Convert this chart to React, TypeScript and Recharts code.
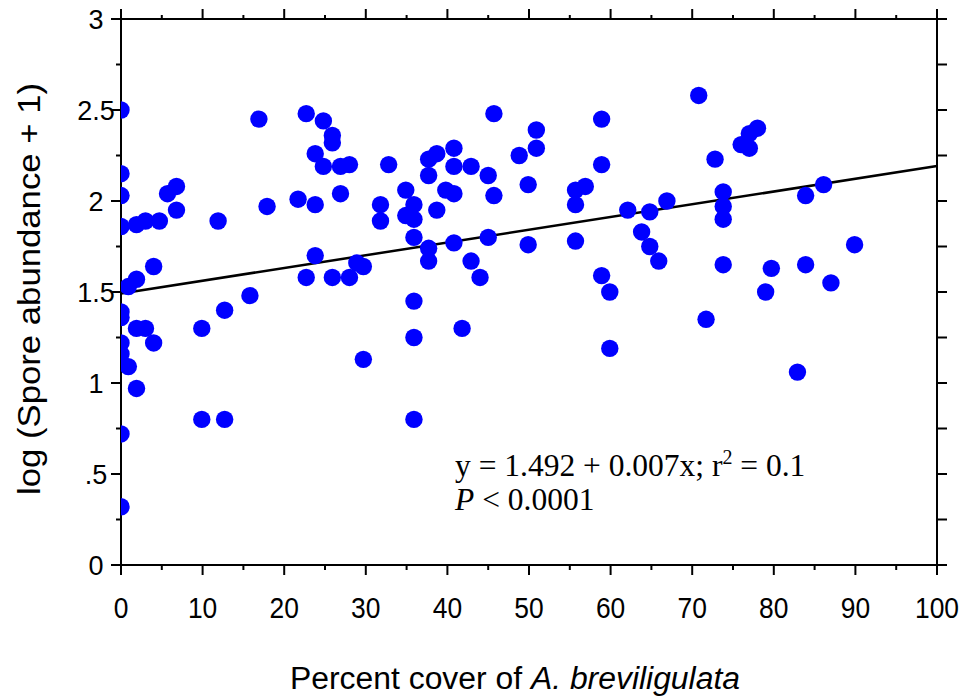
import {
  ReferenceLine,
  Scatter,
  ScatterChart,
  XAxis,
  YAxis,
} from "recharts";

// percent cover (x) and log spore abundance (y)
const coverValues = [
  0, 0, 0, 0, 0, 0, 0, 0, 0, 0,
  1.9, 3.0, 4.7, 11.9, 5.7, 6.8, 6.8, 17.9, 16.9, 21.7,
  4.0, 1.9, 0.9, 15.8, 12.7, 9.9, 1.9, 3.0, 4.0, 0.9,
  1.9, 9.9, 12.7,
  22.7, 24.8, 25.9, 25.9, 23.8, 24.8, 26.9, 28.0, 32.8, 37.7,
  38.7, 40.8, 40.8, 42.9, 37.7, 23.8, 26.9, 31.8, 31.8, 34.9,
  35.9, 34.9, 35.9, 38.7, 39.8, 40.8, 35.9, 37.7, 37.7, 40.8,
  42.9, 44.0, 23.8, 28.9, 29.7, 22.7, 25.9, 28.0, 35.9, 41.8,
  35.9, 29.7, 35.9,
  45.7, 70.8, 50.9, 50.9, 48.8, 58.9, 58.9, 45.0, 45.7, 49.9,
  55.7, 56.9, 55.7, 62.1, 64.8, 66.9, 45.0, 49.9, 55.7, 63.8,
  64.8, 65.9, 58.9, 59.9, 71.7, 59.9,
  78.0, 77.0, 76.0, 77.0, 72.8, 73.8, 73.8, 73.8, 83.9, 86.1,
  73.8, 79.7, 83.9, 89.9, 79.0, 87.0, 82.9,
];
const sporeValues = [
  2.5, 2.15, 2.03, 1.86, 1.39, 1.36, 1.22, 1.16, 0.72, 0.32,
  1.87, 1.89, 1.89, 1.89, 2.04, 2.08, 1.95, 1.97, 2.45, 2.01,
  1.64, 1.57, 1.53, 1.48, 1.4, 1.3, 1.3, 1.3, 1.22, 1.09,
  0.97, 0.8, 0.8,
  2.48, 2.44, 2.36, 2.32, 2.26, 2.19, 2.19, 2.2, 2.2, 2.23,
  2.26, 2.29, 2.19, 2.19, 2.14, 1.98, 2.04, 1.98, 1.89, 2.06,
  1.98, 1.92, 1.9, 1.95, 2.06, 2.04, 1.8, 1.74, 1.67, 1.77,
  1.67, 1.58, 1.7, 1.66, 1.64, 1.58, 1.58, 1.58, 1.45, 1.3,
  1.25, 1.13, 0.8,
  2.48, 2.58, 2.39, 2.29, 2.25, 2.45, 2.2, 2.14, 2.03, 2.09,
  2.06, 2.08, 1.98, 1.95, 1.94, 2.0, 1.8, 1.76, 1.78, 1.83,
  1.75, 1.67, 1.59, 1.5, 1.35, 1.19,
  2.4, 2.37, 2.31, 2.29, 2.23, 2.05, 1.97, 1.9, 2.03, 2.09,
  1.65, 1.63, 1.65, 1.76, 1.5, 1.55, 1.06,
];

const xTicks = [0, 5, 10, 15, 20, 25, 30, 35, 40, 45, 50, 55, 60, 65, 70, 75, 80, 85, 90, 95, 100];
const yTicks = [0, 0.25, 0.5, 0.75, 1, 1.25, 1.5, 1.75, 2, 2.25, 2.5, 2.75, 3];
const yTickLabels: Record<number, string> = { 0: "0", 0.5: ".5", 1: "1", 1.5: "1.5", 2: "2", 2.5: "2.5", 3: "3" };

// fitted line y = 1.492 + 0.007x
const fitIntercept = 1.492;
const fitSlope = 0.007;
const fitRange = [0, 100];

const points = coverValues.map((x, i) => ({ x, y: sporeValues[i] }));

const AXIS_FONT = "'Liberation Sans', Arial, sans-serif";
const SERIF = "'Liberation Serif', 'Times New Roman', serif";

function BottomTick({ x, y, payload }: any) {
  const v = payload.value;
  const major = v % 10 === 0;
  return (
    <g>
      <line x1={x} x2={x} y1={y} y2={y + (major ? 10 : 5)} stroke="#000" strokeWidth={2} />
      {major && (
        <text
          x={x}
          y={y + 53}
          textAnchor="middle"
          fontSize={30}
          fontFamily={AXIS_FONT}
          fill="#000"
          transform={`translate(${x} 0) scale(0.88 1) translate(${-x} 0)`}
        >
          {v}
        </text>
      )}
    </g>
  );
}

function TopTick({ x, y, payload }: any) {
  const major = payload.value % 10 === 0;
  return <line x1={x} x2={x} y1={y} y2={y - (major ? 10 : 4)} stroke="#000" strokeWidth={2} />;
}

function LeftTick({ x, y, payload }: any) {
  const v = payload.value;
  const label = yTickLabels[v];
  return (
    <g>
      <line x1={x} x2={x - (label ? 10 : 5)} y1={y} y2={y} stroke="#000" strokeWidth={2} />
      {label && (
        <text x={96} y={y + 10} textAnchor="middle" fontSize={27} fontFamily={AXIS_FONT} fill="#000">
          {label}
        </text>
      )}
    </g>
  );
}

function RightTick({ x, y }: any) {
  return <line x1={x} x2={x + 10} y1={y} y2={y} stroke="#000" strokeWidth={2} />;
}

const Dot = (props: any) => <circle cx={props.cx} cy={props.cy} r={8.7} fill="#0000ff" />;

export default function App() {
  return (
    <div style={{ position: "absolute", left: 0, top: 0, width: 969, height: 700, background: "#fff" }}>
      <ScatterChart width={969} height={700} margin={{ top: 9, right: 12, bottom: 75, left: 61 }}>
        <XAxis
          xAxisId="bottom"
          type="number"
          dataKey="x"
          domain={[0, 100]}
          ticks={xTicks}
          interval={0}
          height={60}
          tickSize={0}
          tickMargin={0}
          axisLine={{ stroke: "#000", strokeWidth: 2 }}
          tickLine={false}
          tick={<BottomTick />}
          allowDataOverflow
        />
        <XAxis
          xAxisId="top"
          orientation="top"
          type="number"
          dataKey="x"
          domain={[0, 100]}
          ticks={xTicks}
          interval={0}
          height={10}
          tickSize={0}
          tickMargin={0}
          axisLine={{ stroke: "#000", strokeWidth: 2 }}
          tickLine={false}
          tick={<TopTick />}
          allowDataOverflow
        />
        <YAxis
          yAxisId="left"
          type="number"
          dataKey="y"
          domain={[0, 3]}
          ticks={yTicks}
          interval={0}
          width={60}
          tickSize={0}
          tickMargin={0}
          axisLine={{ stroke: "#000", strokeWidth: 2 }}
          tickLine={false}
          tick={<LeftTick />}
          allowDataOverflow
        />
        <YAxis
          yAxisId="right"
          orientation="right"
          type="number"
          dataKey="y"
          domain={[0, 3]}
          ticks={yTicks}
          interval={0}
          width={20}
          tickSize={0}
          tickMargin={0}
          axisLine={{ stroke: "#000", strokeWidth: 2 }}
          tickLine={false}
          tick={<RightTick />}
          allowDataOverflow
        />
        <ReferenceLine
          xAxisId="bottom"
          yAxisId="left"
          segment={[
            { x: fitRange[0], y: fitIntercept + fitSlope * fitRange[0] },
            { x: fitRange[1], y: fitIntercept + fitSlope * fitRange[1] },
          ]}
          stroke="#000"
          strokeWidth={2.5}
          ifOverflow="visible"
        />
        <Scatter
          xAxisId="bottom"
          yAxisId="left"
          data={points}
          shape={Dot}
          isAnimationActive={false}
        />
        <text
          x={29}
          y={289}
          transform="rotate(-90 29 289)"
          textAnchor="middle"
          dominantBaseline="central"
          fontSize={31}
          fontFamily={AXIS_FONT}
          fill="#000"
          textLength={412}
          lengthAdjust="spacingAndGlyphs"
        >
          log (Spore abundance + 1)
        </text>
        <text
          x={290}
          y={689}
          fontSize={31}
          fontFamily={AXIS_FONT}
          fill="#000"
          textLength={450}
          lengthAdjust="spacingAndGlyphs"
        >
          Percent cover of <tspan fontStyle="italic">A. breviligulata</tspan>
        </text>
        <text x={455} y={476} fontSize={31.5} fontFamily={SERIF} fill="#000">
          y = 1.492 + 0.007x; r<tspan dy={-12} fontSize={20}>2</tspan>
          <tspan dy={12}> = 0.1</tspan>
        </text>
        <text x={455} y={510} fontSize={31.5} fontFamily={SERIF} fill="#000">
          <tspan fontStyle="italic">P</tspan> &lt; 0.0001
        </text>
      </ScatterChart>
    </div>
  );
}
